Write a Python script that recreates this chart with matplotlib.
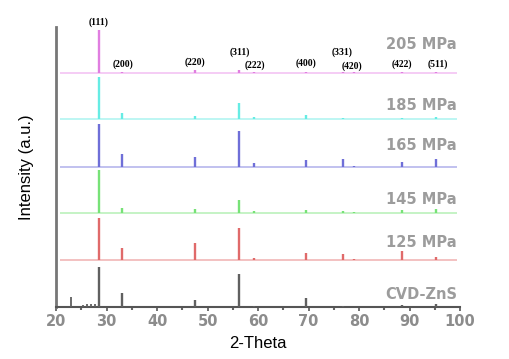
import matplotlib.pyplot as plt

# peak positions (2-theta) for cubic ZnS
hkl = ["(111)", "(200)", "(220)", "(311)", "(222)", "(400)", "(331)", "(420)", "(422)", "(511)"]
two_theta = [28.5, 33.1, 47.5, 56.3, 59.1, 69.5, 76.8, 79.1, 88.5, 95.3]

samples = ["205 MPa", "185 MPa", "165 MPa", "145 MPa", "125 MPa", "CVD-ZnS"]
offsets = [545, 437, 326, 219, 109, 0]

i_205 = [100, 1, 6, 6, 1, 1, 1, 1, 2, 2]
i_185 = [98, 14, 7, 37, 5, 9, 2, 1, 4, 5]
i_165 = [100, 30, 23, 84, 9, 16, 19, 2, 12, 19]
i_145 = [100, 12, 9, 30, 5, 7, 5, 1, 7, 9]
i_125 = [98, 28, 40, 74, 5, 16, 14, 2, 21, 7]
i_cvd = [93, 33, 16, 77, 2, 21, 2, 1, 5, 7]
intens = [i_205, i_185, i_165, i_145, i_125, i_cvd]

# extra small peaks seen only in CVD-ZnS
cvd_extra_x = [23.0, 25.3, 26.2, 27.0, 27.7]
cvd_extra_i = [23, 4, 6, 6, 8]

colors = ["#e07ee0", "#66ece4", "#6f6fd8", "#77e277", "#e06a6a", "#606060"]
base_colors = ["#f4c8f4", "#b8f6f2", "#bcbcee", "#c0f2c0", "#f2bcbc", "#909090"]

# label positions (data units)
label_y = [610, 468, 377, 251, 151, 28]
hkl_x = [28.5, 33.3, 47.5, 56.3, 59.3, 69.4, 76.7, 78.5, 88.5, 95.6]
hkl_y = [664, 565, 570, 594, 563, 568, 592, 561, 566, 566]

fig = plt.figure(figsize=(5.1, 3.59), dpi=100)
ax = fig.add_axes([0.110, 0.145, 0.792, 0.780])

for k in range(len(samples)):
    off = offsets[k]
    if off > 0:
        ax.hlines(off, 20.8, 99.5, color=base_colors[k], lw=1.3, zorder=2)
    ax.vlines(two_theta, off, [off + v for v in intens[k]], color=colors[k], lw=1.7, zorder=3)
    ax.text(99.4, label_y[k], samples[k], ha="right", va="center", color="#9c9c9c",
            fontsize=10.5, fontweight="bold", family="DejaVu Sans")

ax.vlines(cvd_extra_x, 0, cvd_extra_i, color=colors[-1], lw=1.3, zorder=3)

for lab, x, y in zip(hkl, hkl_x, hkl_y):
    ax.text(x, y, lab, ha="center", va="center", fontsize=7, fontweight="bold",
            family="Liberation Serif", clip_on=False)

ax.set_xlim(20, 100)
ax.set_ylim(0, 652)
ax.set_xticks(range(20, 101, 10))
ax.set_xticks(range(25, 100, 5), minor=True)
ax.set_yticks([])
for s in ["top", "right"]:
    ax.spines[s].set_visible(False)
ax.spines["left"].set_color("#777777")
ax.spines["left"].set_linewidth(2)
ax.spines["bottom"].set_color("#555555")
ax.spines["bottom"].set_linewidth(1.5)
ax.tick_params(axis="x", direction="out", length=3, width=1.2, color="#555555",
               labelsize=10.5, labelcolor="#8c8c8c", pad=2)
ax.tick_params(axis="x", which="minor", direction="out", length=2, width=1.5, color="#666666")
for t in ax.get_xticklabels():
    t.set_fontweight("bold")

ax.set_xlabel("2-Theta", fontsize=12, family="Liberation Sans", labelpad=5)
ax.set_ylabel("Intensity (a.u.)", fontsize=12, family="Liberation Sans", labelpad=16)

fig.savefig("out.png", dpi=100)
